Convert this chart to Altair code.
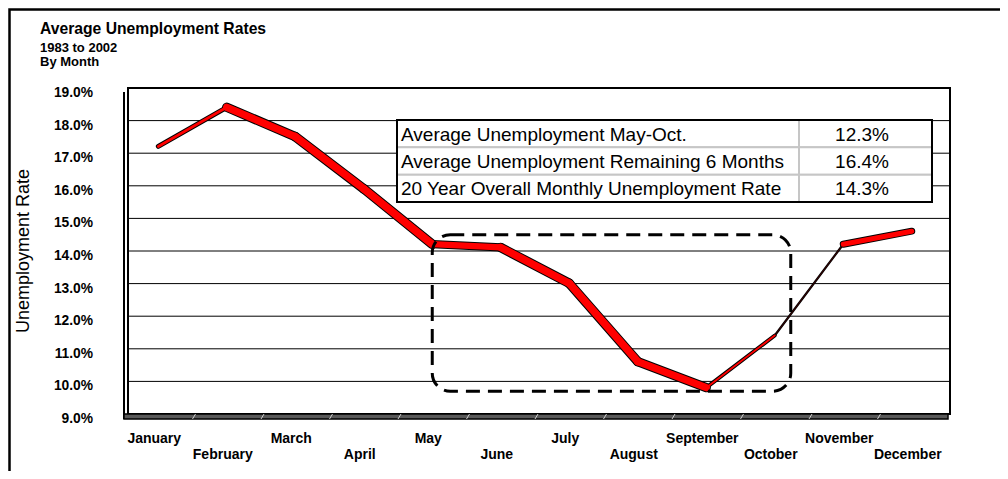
import math
import altair as alt
import pandas as pd

# ---------------- data ----------------
MONTHS = ["January", "February", "March", "April", "May", "June",
          "July", "August", "September", "October", "November", "December"]
RATES = [17.3, 18.5, 17.6, 16.0, 14.3, 14.2, 13.1, 10.7, 9.9, 11.5, 14.3, 14.7]
Y_TICKS = [9, 10, 11, 12, 13, 14, 15, 16, 17, 18, 19]

TABLE_LABELS = ["Average Unemployment May-Oct.",
                "Average Unemployment Remaining 6 Months",
                "20 Year Overall Monthly Unemployment Rate"]
TABLE_VALUES = [12.3, 16.4, 14.3]

BOX_MONTHS = ["May", "October"]      # highlighted period
BOX_RANGE = [14.5, 9.7]              # top / bottom of highlight box (rate units)

TITLE = "Average Unemployment Rates"
SUBTITLE = ["1983 to 2002", "By Month"]
Y_TITLE = "Unemployment Rate"

# ---------------- layout constants ----------------
W, H = 822, 326
FONT = "Liberation Sans"
Y_MIN, Y_MAX = 9, 19
DEPTH = (4.8, -6.0)   # 3-D ribbon depth vector (pixels)

step = W / len(MONTHS)
px_per = H / (Y_MAX - Y_MIN)

seg_rows = []
for i in range(len(MONTHS) - 1):
    dx = step
    dy = -(RATES[i + 1] - RATES[i]) * px_per
    L = math.hypot(dx, dy)
    ux, uy = dx / L, dy / L
    t = abs(ux * DEPTH[1] - uy * DEPTH[0])
    seg_rows.append({"m": MONTHS[i], "m2": MONTHS[i + 1],
                     "v": RATES[i], "v2": RATES[i + 1],
                     "t": t, "tb": t + 2.0})
seg_df = pd.DataFrame(seg_rows)

month_df = pd.DataFrame({"m": MONTHS, "idx": list(range(len(MONTHS)))})
tick_df = pd.DataFrame({"tick": Y_TICKS})
box_df = pd.DataFrame({"m1": [BOX_MONTHS[0]], "m2": [BOX_MONTHS[1]],
                       "top": [BOX_RANGE[0]], "bottom": [BOX_RANGE[1]]})
one = pd.DataFrame({"a": [0]})

x_scale = alt.Scale(type="point", domain=MONTHS, padding=0.5)
y_scale = alt.Scale(domain=[Y_MIN, Y_MAX], zero=False, nice=False)
X = lambda f: alt.X(f, scale=x_scale, axis=None)
Y = lambda f: alt.Y(f, scale=y_scale, axis=None)

layers = []

# back wall frame
layers.append(alt.Chart(one).mark_rect(fillOpacity=0, stroke="black", strokeWidth=2).encode(
    x=alt.value(4), x2=alt.value(W + 4), y=alt.value(0), y2=alt.value(H)))

# gridlines on the back wall
layers.append(alt.Chart(tick_df).mark_rule(color="black", strokeWidth=1).encode(
    y=Y("tick:Q"), x=alt.value(4), x2=alt.value(W + 4)))

# front edge of the left wall
layers.append(alt.Chart(one).mark_rule(color="black", strokeWidth=2).encode(
    x=alt.value(0), y=alt.value(4), y2=alt.value(H + 5)))

# floor with category separators
layers.append(alt.Chart(one).mark_rect(fill="#595959", stroke="black", strokeWidth=1.5).encode(
    x=alt.value(0), x2=alt.value(W + 2), y=alt.value(H), y2=alt.value(H + 5)))
layers.append(alt.Chart(month_df).transform_filter("datum.idx > 0").mark_rule(
    color="#d0d0d0", strokeWidth=1, xOffset=-step / 2, x2Offset=-step / 2 + 3).encode(
    x=X("m:N"), x2="m:N", y=alt.value(H + 5), y2=alt.value(H)))

# y tick labels (front plane)
layers.append(alt.Chart(tick_df).transform_calculate(
    lbl="format(datum.tick, '.1f') + '%'").mark_text(
    align="right", baseline="middle", dy=5, font=FONT, fontSize=13.8,
    fontWeight="bold", color="black").encode(
    y=Y("tick:Q"), x=alt.value(-31), text="lbl:N"))

# x tick labels, staggered on two rows
layers.append(alt.Chart(month_df).transform_filter("datum.idx % 2 == 0").mark_text(
    align="center", baseline="alphabetic", dx=-4, font=FONT, fontSize=14,
    fontWeight="bold", color="black").encode(
    x=X("m:N"), y=alt.value(H + 29), text="m:N"))
layers.append(alt.Chart(month_df).transform_filter("datum.idx % 2 == 1").mark_text(
    align="center", baseline="alphabetic", dx=-4, font=FONT, fontSize=14,
    fontWeight="bold", color="black").encode(
    x=X("m:N"), y=alt.value(H + 45), text="m:N"))

# y axis title
layers.append(alt.Chart(pd.DataFrame({"t": [Y_TITLE]})).mark_text(
    angle=270, align="center", baseline="middle", font=FONT, fontSize=18,
    color="black").encode(x=alt.value(-100), y=alt.value(H / 2), text="t:N"))

# ribbon: dark edge, then red face
layers.append(alt.Chart(seg_df).mark_rule(color="black", strokeCap="round",
                                          yOffset=3, y2Offset=3).encode(
    x=X("m:N"), x2="m2:N", y=Y("v:Q"), y2="v2:Q",
    strokeWidth=alt.StrokeWidth("tb:Q", scale=None, legend=None)))
layers.append(alt.Chart(seg_df).mark_rule(color="#FF0000", strokeCap="round",
                                          yOffset=3, y2Offset=3).encode(
    x=X("m:N"), x2="m2:N", y=Y("v:Q"), y2="v2:Q",
    strokeWidth=alt.StrokeWidth("t:Q", scale=None, legend=None)))

# dashed highlight box
layers.append(alt.Chart(box_df).mark_rect(fillOpacity=0, stroke="black", strokeWidth=3,
                                          strokeDash=[14, 8], cornerRadius=18,
                                          x2Offset=16).encode(
    x=X("m1:N"), x2="m2:N", y=Y("top:Q"), y2="bottom:Q"))

# ---------------- table ----------------
TL, TM, TR = 273, 675, 808
T_TOP, T_BOT = 32, 114
row_h = (T_BOT - T_TOP) / len(TABLE_LABELS)
for i, (lab, val) in enumerate(zip(TABLE_LABELS, TABLE_VALUES)):
    r0 = T_TOP + i * row_h
    r1 = r0 + row_h
    rdf = pd.DataFrame({"label": [lab], "vtxt": [f"{val:.1f}%"]})
    layers.append(alt.Chart(rdf).mark_rect(fill="white", stroke="#c6c6c6", strokeWidth=2).encode(
        x=alt.value(TL), x2=alt.value(TM), y=alt.value(r0), y2=alt.value(r1)))
    layers.append(alt.Chart(rdf).mark_rect(fill="white", stroke="#c6c6c6", strokeWidth=2).encode(
        x=alt.value(TM), x2=alt.value(TR), y=alt.value(r0), y2=alt.value(r1)))
    layers.append(alt.Chart(rdf).mark_text(align="left", baseline="middle", font=FONT,
                                           fontSize=19, color="black", dy=1).encode(
        x=alt.value(TL + 4), y=alt.value((r0 + r1) / 2), text="label:N"))
    layers.append(alt.Chart(rdf).mark_text(align="center", baseline="middle", font=FONT,
                                           fontSize=19, color="black", dy=1).encode(
        x=alt.value(738), y=alt.value((r0 + r1) / 2), text="vtxt:N"))
layers.append(alt.Chart(one).mark_rect(fillOpacity=0, stroke="black", strokeWidth=2).encode(
    x=alt.value(TL), x2=alt.value(TR), y=alt.value(T_TOP), y2=alt.value(T_BOT)))

# outer chart border
layers.append(alt.Chart(one).mark_rect(fillOpacity=0, stroke="black", strokeWidth=2.5).encode(
    x=alt.value(-114.5), y=alt.value(-78.5), x2=alt.value(1000), y2=alt.value(600)))

chart = alt.layer(*layers).properties(
    width=W, height=H,
    background="white",
    title=alt.TitleParams(
        text=TITLE, subtitle=SUBTITLE, anchor="start", frame="group",
        dx=-84, dy=76, offset=14, font=FONT, fontSize=15.7, fontWeight="bold", color="black",
        subtitleFont=FONT, subtitleFontSize=13, subtitleFontWeight="bold",
        subtitleColor="black", subtitlePadding=5, subtitleLineHeight=14),
    autosize=alt.AutoSizeParams(type="none"),
    padding={"left": 116, "top": 80, "right": 54, "bottom": 57},
).configure_view(strokeWidth=0)

chart.save("out.html", embed_options={"renderer": "svg", "actions": False})
